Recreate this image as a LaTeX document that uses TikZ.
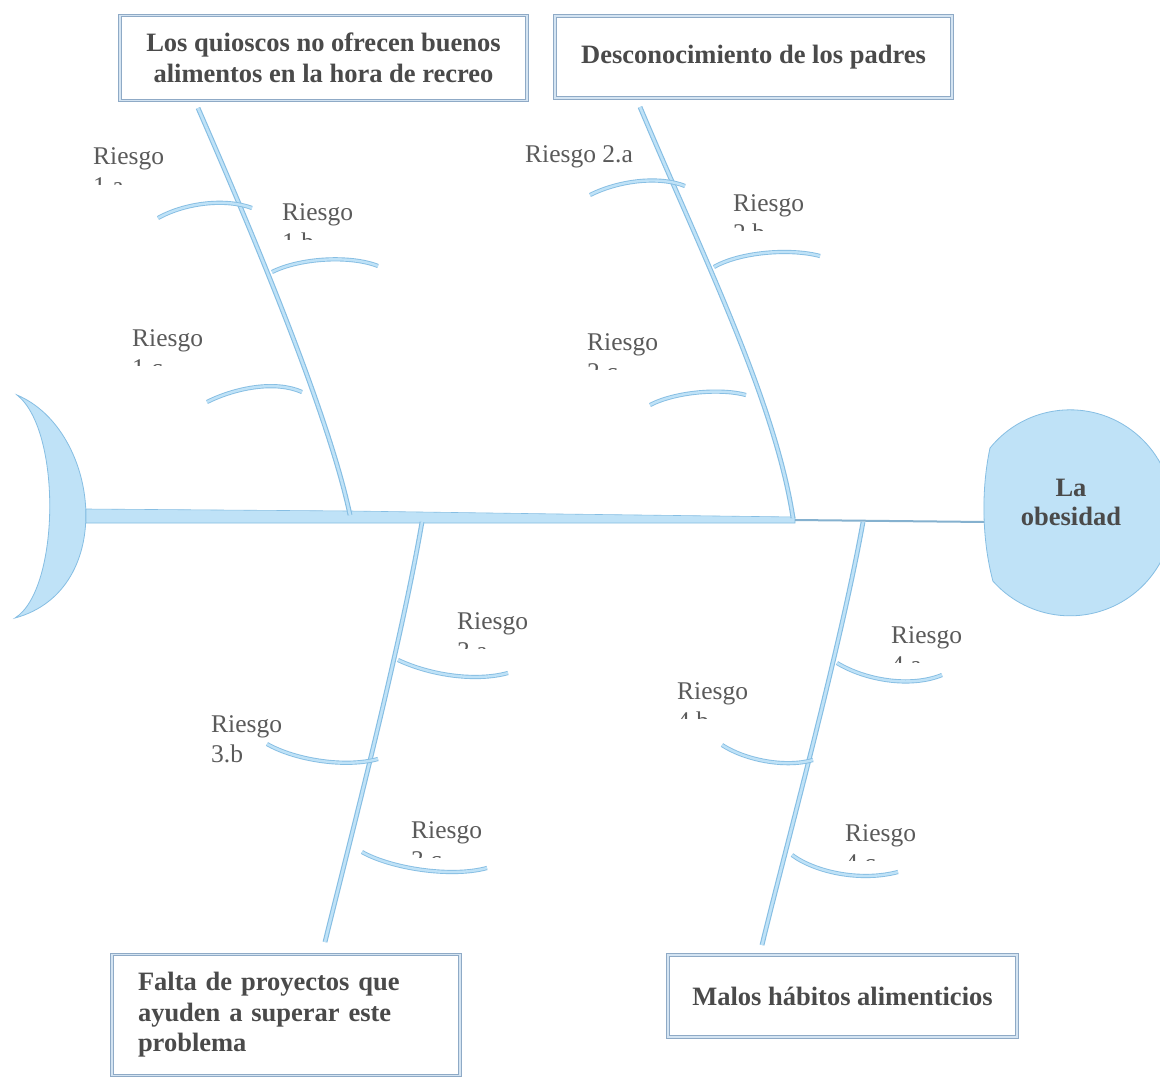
\documentclass[tikz,border=0pt]{standalone}
\usepackage{fontspec}
\setmainfont{Liberation Serif}
\definecolor{bonefill}{HTML}{BFE2F7}
\definecolor{boneedge}{HTML}{86BEE3}
\definecolor{txt}{HTML}{4A4A4A}
\definecolor{risktxt}{HTML}{5A5A5A}
\definecolor{boxline}{HTML}{8FAAC6}
\definecolor{boxinner}{HTML}{D4E4F2}
\tikzset{
  bone/.style={draw=boneedge, line width=1.1pt, double=bonefill, double distance=2.6pt},
  twig/.style={draw=boneedge, line width=0.9pt, double=bonefill, double distance=2.4pt},
  cause/.style={draw=boxline, line width=1.1pt, double=boxinner, double distance=1.2pt,
    fill=white, text=txt, font=\bfseries\fontsize{26.5}{30.5}\selectfont, inner sep=0pt},
  headtxt/.style={text=txt, font=\bfseries\fontsize{26.5}{29}\selectfont, align=center, inner sep=0pt},
  risk/.style={text=risktxt, font=\fontsize{25.5}{30}\selectfont, align=left, inner sep=0pt, anchor=north west}
}
\newcommand\riskLabel[5]{%
  \begin{scope}
    \clip (#2-4,#3-4) rectangle (#2+110,#3+#5);
    \node[risk] (#1) at (#2,#3) {Riesgo\\#4};
  \end{scope}}
\begin{document}
\begin{tikzpicture}[x=1pt,y=-1pt]
\useasboundingbox[fill=white] (0,0) rectangle (1160,1079);

% tail
\filldraw[fill=bonefill, draw=boneedge, line width=0.8pt]
  (17,395) .. controls (100,430) and (118,590) .. (15,618)
  .. controls (60,590) and (62,430) .. (17,395) -- cycle;

% spine
\filldraw[fill=bonefill, draw=boneedge, line width=0.6pt]
  (86,509) -- (350,511) -- (560,514) -- (795,517) -- (795,523) -- (86,523) -- cycle;
\coordinate (sp) at (795,520);
\coordinate (headL) at (985,522);
\draw[draw=boneedge!80!gray, line width=2pt] (sp) -- (headL);

% head
\filldraw[fill=bonefill, draw=boneedge, line width=0.8pt]
  (990,448) arc[start angle=219, end angle=498.5, radius=103]
  .. controls (982,540) and (981,490) .. (990,448) -- cycle;
\node[headtxt] (head) at (1071,502) {La\\obesidad};

% cause boxes
\node[cause, minimum width=407, minimum height=85, align=center] (c1) at (323.5,58)
  {Los quioscos no ofrecen buenos\\alimentos en la hora de recreo};
\node[cause, minimum width=397, minimum height=82, align=center] (c2) at (753.5,57)
  {Desconocimiento de los padres};
\node[cause, minimum width=348, minimum height=121, inner xsep=26pt, text width=296pt, align=left] (c3) at (286,1015)
  {Falta de proyectos que\\ayuden a superar este\\problema};
\node[cause, minimum width=349, minimum height=82, align=center] (c4) at (842.5,996)
  {Malos hábitos alimenticios};

% main bones
\coordinate (b1s) at (198,108); \coordinate (b1e) at (350,515);
\coordinate (b2s) at (640,107); \coordinate (b2e) at (793,518);
\coordinate (b3s) at (422,522); \coordinate (b3e) at (325,942);
\coordinate (b4s) at (863,522); \coordinate (b4e) at (762,945);
\draw[bone] (b1s) .. controls (260,250) and (330,420) .. (b1e);
\draw[bone] (b2s) .. controls (700,250) and (775,400) .. (b2e);
\draw[bone] (b3s) .. controls (400,650) and (345,860) .. (b3e);
\draw[bone] (b4s) .. controls (840,650) and (785,850) .. (b4e);

% twigs
\coordinate (t1a) at (158,218); \coordinate (u1a) at (252,208);
\coordinate (t1b) at (272,272); \coordinate (u1b) at (378,266);
\coordinate (t1c) at (207,402); \coordinate (u1c) at (302,392);
\coordinate (t2a) at (590,195); \coordinate (u2a) at (685,186);
\coordinate (t2b) at (714,267); \coordinate (u2b) at (820,256);
\coordinate (t2c) at (650,405); \coordinate (u2c) at (746,395);
\coordinate (t3a) at (398,660); \coordinate (u3a) at (508,673);
\coordinate (t3b) at (267,744); \coordinate (u3b) at (378,759);
\coordinate (t3c) at (362,852); \coordinate (u3c) at (487,868);
\coordinate (t4a) at (837,663); \coordinate (u4a) at (942,675);
\coordinate (t4b) at (722,745); \coordinate (u4b) at (813,760);
\coordinate (t4c) at (792,855); \coordinate (u4c) at (898,872);
\draw[twig] (t1a) .. controls (185,203) and (225,198) .. (u1a);
\draw[twig] (t1b) .. controls (300,258) and (350,255) .. (u1b);
\draw[twig] (t1c) .. controls (235,388) and (275,380) .. (u1c);
\draw[twig] (t2a) .. controls (620,180) and (660,176) .. (u2a);
\draw[twig] (t2b) .. controls (740,252) and (790,248) .. (u2b);
\draw[twig] (t2c) .. controls (675,392) and (720,388) .. (u2c);
\draw[twig] (t3a) .. controls (430,675) and (475,682) .. (u3a);
\draw[twig] (t3b) .. controls (295,760) and (345,768) .. (u3b);
\draw[twig] (t3c) .. controls (390,868) and (450,878) .. (u3c);
\draw[twig] (t4a) .. controls (865,680) and (910,688) .. (u4a);
\draw[twig] (t4b) .. controls (745,760) and (785,768) .. (u4b);
\draw[twig] (t4c) .. controls (815,872) and (860,882) .. (u4c);

% risk labels
\riskLabel{r1a}{93}{147}{1.a}{37}
\riskLabel{r1b}{282}{203}{1.b}{36}
\riskLabel{r1c}{132}{329}{1.c}{36}
\node[risk] (r2a) at (525,145) {Riesgo 2.a};
\riskLabel{r2b}{733}{194}{2.b}{36}
\riskLabel{r2c}{587}{333}{2.c}{36}
\riskLabel{r3a}{457}{612}{3.a}{36}
\node[risk] (r3b) at (211,715) {Riesgo\\3.b};
\riskLabel{r3c}{411}{821}{3.c}{36}
\riskLabel{r4a}{891}{626}{4.a}{36}
\riskLabel{r4b}{677}{682}{4.b}{36}
\riskLabel{r4c}{845}{824}{4.c}{36}
\end{tikzpicture}
\end{document}
